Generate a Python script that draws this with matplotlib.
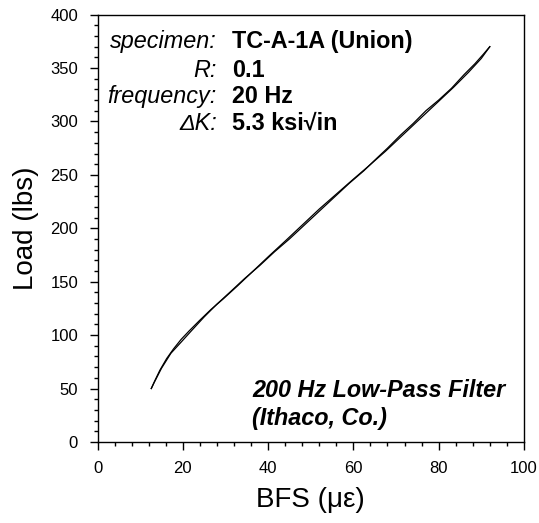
import matplotlib.pyplot as plt
from matplotlib.ticker import MultipleLocator

plt.rcParams['font.family'] = ['Liberation Sans', 'DejaVu Sans']

# loading branch (BFS microstrain, load lbs)
bfs_up = [12.6, 13.4, 14.6, 16.2, 17.8, 19.6, 21.5, 24.0, 26.6, 29.5, 32.8, 36.5,
          40.2, 44.0, 48.0, 52.0, 56.0, 60.0, 63.5, 67.5, 71.5, 75.5, 79.5, 83.5,
          87.0, 90.0, 92.0]
load_up = [50, 57, 67, 78, 87, 96, 104, 114, 124, 134, 146, 160,
           174, 188, 203, 218, 232, 246, 258, 272, 287, 302, 317, 332,
           346, 359, 370]

# unloading branch
bfs_dn = [92.0, 90.5, 88.5, 86.0, 83.0, 80.0, 77.0, 74.0, 71.0, 68.0, 65.6, 62.5,
          59.0, 55.5, 52.0, 48.5, 45.0, 41.5, 38.0, 34.5, 31.0, 28.0, 25.0, 22.0,
          19.5, 17.2, 15.0, 13.2, 12.6]
load_dn = [370, 363, 354, 344, 331, 320, 310, 298, 287, 275, 266, 254,
           242, 229, 216, 203, 190, 178, 165, 153, 140, 129, 117, 104,
           93, 83, 69, 55, 50]

labels = ['specimen', 'R', 'frequency', '\u0394K']
values = ['TC-A-1A (Union)', '0.1', '20 Hz', '5.3 ksi\u221ain']

fig = plt.figure(figsize=(5.39, 5.23), dpi=100)
ax = fig.add_axes([0.181, 0.155, 0.791, 0.817])

ax.plot(bfs_up, load_up, color='black', lw=0.9)
ax.plot(bfs_dn, load_dn, color='black', lw=0.9)

ax.set_xlim(0, 100)
ax.set_ylim(0, 400)
ax.xaxis.set_major_locator(MultipleLocator(20))
ax.xaxis.set_minor_locator(MultipleLocator(4))
ax.yaxis.set_major_locator(MultipleLocator(50))
ax.yaxis.set_minor_locator(MultipleLocator(10))
ax.tick_params(which='major', direction='out', length=6, width=1, labelsize=12, pad=8)
ax.tick_params(which='minor', direction='out', length=3, width=1)
for s in ax.spines.values():
    s.set_linewidth(1)

ax.set_xlabel('BFS (\u03bc\u03b5)', fontsize=20, labelpad=8)
ax.set_ylabel('Load (lbs)', fontsize=20, labelpad=8)

ys = [369, 342, 317, 292]
for lab, val, y in zip(labels, values, ys):
    ax.text(28.0, y, lab + ':', fontsize=16.8, style='italic', ha='right', va='baseline')
    ax.text(31.5, y, val, fontsize=16.8, fontweight='bold', ha='left', va='baseline')

ax.text(36.3, 42, '200 Hz Low-Pass Filter', fontsize=16.8, fontweight='bold',
        style='italic', ha='left', va='baseline')
ax.text(36.3, 16, '(Ithaco, Co.)', fontsize=16.8, fontweight='bold',
        style='italic', ha='left', va='baseline')

fig.savefig('out.png', dpi=100)
